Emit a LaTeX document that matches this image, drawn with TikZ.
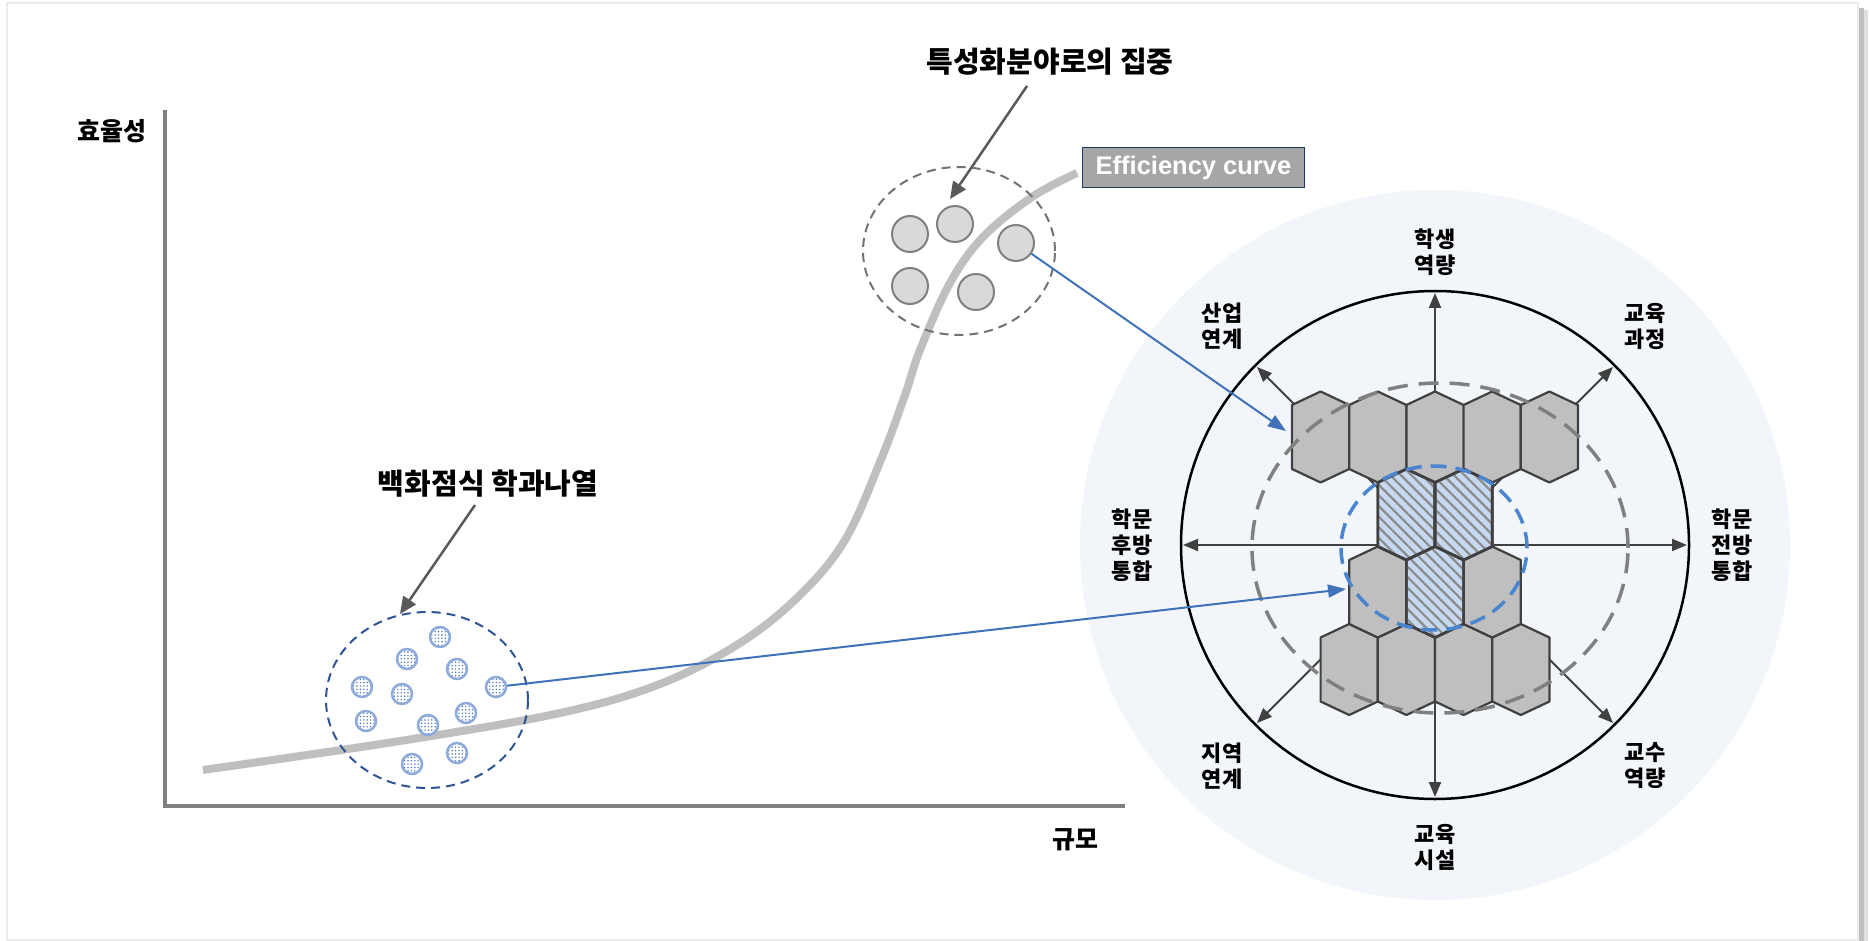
\documentclass[tikz,border=0pt]{standalone}
\usepackage{fontspec}
\setmainfont{Liberation Sans}
\newfontfamily\kr{Noto Sans CJK KR}
\usetikzlibrary{arrows.meta,patterns.meta,calc}
\definecolor{axisgray}{HTML}{808080}
\definecolor{curvegray}{HTML}{BFBFBF}
\definecolor{callgray}{HTML}{595959}
\definecolor{bgblue}{HTML}{F2F5FA}
\definecolor{hexfill}{HTML}{BFBFBF}
\definecolor{hexline}{HTML}{404040}
\definecolor{hatchblue}{HTML}{C6D9F1}
\definecolor{hatchgray}{HTML}{8C8C8C}
\definecolor{linkblue}{HTML}{3F72B8}
\definecolor{dashblue}{HTML}{4A86D0}
\definecolor{darkblue}{HTML}{2F5597}
\definecolor{ringblue}{HTML}{8EAADB}
\definecolor{dotblue}{HTML}{4472C4}
\definecolor{effgray}{HTML}{A6A6A6}
\definecolor{effline}{HTML}{1F3864}
\newcommand\hexcell[3]{\path[#3] (#1,#2) ++(0,-45.5) -- ++(28.6,13.5) -- ++(0,64) -- ++(-28.6,13.5) -- ++(-28.6,-13.5) -- ++(0,-64) -- cycle;}
\begin{document}
\begin{tikzpicture}[x=1pt,y=-1pt,
  krbig/.style={font=\kr\bfseries\fontsize{29}{34}\selectfont},
  kraxis/.style={font=\kr\bfseries\fontsize{25}{30}\selectfont},
  krlab/.style={font=\kr\bfseries\fontsize{22}{26}\selectfont, align=center, inner sep=0pt},
  gc/.style={circle, minimum size=36pt, inner sep=0pt, fill=black!15, draw=axisgray, line width=2pt},
  dc/.style={circle, minimum size=20pt, inner sep=0pt, preaction={fill=white}, pattern={Dots[radius=0.8pt,distance=3.4pt]}, pattern color=dotblue, draw=ringblue, line width=2.5pt},
  callout/.style={draw=callgray, line width=2.5pt, -{Triangle[length=17pt,width=15pt]}},
  link/.style={draw=linkblue, line width=2pt, -{Triangle[length=18pt,width=13pt]}},
  compass/.style={draw=hexline, line width=2pt, -{Triangle[length=15pt,width=12pt]}},
  graycell/.style={fill=hexfill, draw=hexline, line width=2.2pt, line join=round},
  hatchcell/.style={fill=hatchblue, draw=hexline, line width=2.6pt, line join=round, postaction={pattern={Lines[angle=-45,distance=7.5pt,line width=2.2pt]}, pattern color=hatchgray}},
  hatchline/.style={draw=hexline, line width=2.6pt, line join=round},
  effbox/.style={fill=effgray, draw=effline, line width=1pt, text=white, font=\bfseries\fontsize{25.5}{30}\selectfont, minimum width=222pt, minimum height=40pt, inner sep=0pt}
]
% page
\fill[white] (0,0) rectangle (1869,941);
\useasboundingbox (0,0) rectangle (1869,941);
\draw[black!8, line width=1.5pt] (7,3) rectangle (1858,940);
\fill[black!25] (1859,8) rectangle (1864,941);
\fill[black!12] (1864,10) rectangle (1868,941);

% axes
\draw[axisgray, line width=4pt] (165,110) -- (165,806) -- (1125,806);
\node[kraxis] (ylab) at (112,131) {효율성};
\node[kraxis] (xlab) at (1075,840) {규모};

% efficiency curve
\draw[curvegray, line width=8pt] plot[smooth, tension=0.6] coordinates {(203,770) (400,741) (560,713) (660,684) (740,643) (800,595) (845,540) (880,462) (905,395) (920,350) (950,283) (983,237) (1032,197) (1077,173)};
\node[effbox] (eff) at (1193.5,168) {Efficiency curve};

% upper group
\draw[black!55, line width=2pt, dash pattern=on 9pt off 6pt] (959,251) ellipse [x radius=96pt, y radius=84pt];
\node[gc] (g1) at (910,234) {};
\node[gc] (g2) at (955,224) {};
\node[gc] (g3) at (1016,243) {};
\node[gc] (g4) at (910,286) {};
\node[gc] (g5) at (976,292) {};
\node[krbig] (lab1) at (1050,62) {특성화분야로의 집중};
\coordinate (c1s) at (1027,86);
\coordinate (c1e) at (950,199);
\draw[callout] (c1s) -- (c1e);

% lower group
\draw[darkblue, line width=2pt, dash pattern=on 9pt off 6pt] (427,700) ellipse [x radius=101pt, y radius=88pt];
\node[dc] (d1) at (440,637) {};
\node[dc] (d2) at (407,659) {};
\node[dc] (d3) at (457,669) {};
\node[dc] (d4) at (362,687) {};
\node[dc] (d5) at (402,694) {};
\node[dc] (d6) at (496,687) {};
\node[dc] (d7) at (466,713) {};
\node[dc] (d8) at (366,721) {};
\node[dc] (d9) at (428,725) {};
\node[dc] (d10) at (457,753) {};
\node[dc] (d11) at (412,764) {};
\node[krbig] (lab2) at (488,484) {백화점식 학과나열};
\coordinate (c2s) at (475,505);
\coordinate (c2e) at (400,614);
\draw[callout] (c2s) -- (c2e);

% right compass
\fill[bgblue] (1435,545) circle[radius=355pt];
\draw[black, line width=2.5pt] (1435,545) circle[radius=254pt];
\coordinate (cc) at (1435,545);
\draw[compass] (cc) -- ++(0,-252);
\draw[compass] (cc) -- ++(0,252);
\draw[compass] (cc) -- ++(-252,0);
\draw[compass] (cc) -- ++(252,0);
\draw[compass] (cc) -- ++(-178,-178);
\draw[compass] (cc) -- ++(178,-178);
\draw[compass] (cc) -- ++(-178,178);
\draw[compass] (cc) -- ++(178,178);

% hexes
\foreach \x in {1320.6,1377.8,1435,1492.2,1549.4} {\hexcell{\x}{437}{graycell}}
\foreach \x in {1349.2,1406.4,1463.6,1520.8} {\hexcell{\x}{669.5}{graycell}}
\hexcell{1377.8}{592}{graycell}
\hexcell{1492.2}{592}{graycell}
\hexcell{1406.4}{514.5}{hatchcell}
\hexcell{1463.6}{514.5}{hatchcell}
\hexcell{1435}{592}{hatchcell}
\hexcell{1406.4}{514.5}{hatchline}
\hexcell{1463.6}{514.5}{hatchline}
\hexcell{1435}{592}{hatchline}

\draw[axisgray, line width=3.5pt, dash pattern=on 20pt off 11pt] (1440,548) ellipse [x radius=188pt, y radius=165pt];
\draw[dashblue, line width=3.5pt, dash pattern=on 16pt off 9pt] (1434,548) ellipse [x radius=93pt, y radius=82pt];

% compass labels
\node[krlab] (t1) at (1435,252) {학생\\역량};
\node[krlab] (t2) at (1645,326) {교육\\과정};
\node[krlab] (t3) at (1222,326) {산업\\연계};
\node[krlab] (t4) at (1132,545) {학문\\후방\\통합};
\node[krlab] (t5) at (1732,545) {학문\\전방\\통합};
\node[krlab] (t6) at (1222,766) {지역\\연계};
\node[krlab] (t7) at (1645,766) {교수\\역량};
\node[krlab] (t8) at (1435,847) {교육\\시설};

% links
\coordinate (h1) at (1286,431);
\coordinate (h2) at (1346,589);
\draw[link] (g3) -- (h1);
\draw[link] (d6) -- (h2);
\end{tikzpicture}
\end{document}
